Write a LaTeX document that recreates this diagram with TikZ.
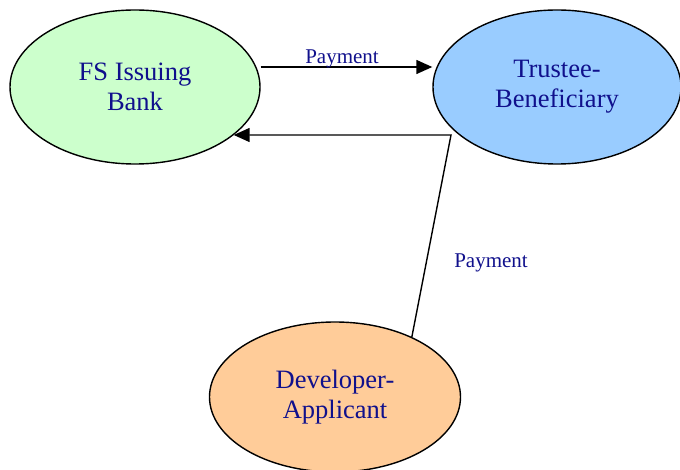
\documentclass[tikz,border=0pt]{standalone}
\usepackage{fontspec}
\setmainfont{Liberation Serif}
\usetikzlibrary{shapes.geometric,arrows.meta}
\definecolor{labelblue}{HTML}{10108C}
\definecolor{bankgreen}{HTML}{CCFFCC}
\definecolor{trustblue}{HTML}{99CCFF}
\definecolor{devorange}{HTML}{FFCC99}
\tikzset{
  party/.style={ellipse, draw=black, line width=1.4pt, text=labelblue,
    font=\fontsize{26.5}{30}\selectfont, align=center, inner sep=0pt},
  flow/.style={draw=black, line width=1.4pt, -{Triangle[length=16pt,width=14pt]}},
  paylabel/.style={text=labelblue, font=\fontsize{21}{24}\selectfont, inner sep=0pt}
}
\begin{document}
\begin{tikzpicture}[x=1pt,y=-1pt]
  \useasboundingbox (0,0) rectangle (680,470);
  \node[party, fill=bankgreen, minimum width=250pt, minimum height=154pt] (bank) at (135,87) {FS Issuing\\Bank};
  \node[party, fill=trustblue, minimum width=248pt, minimum height=154pt] (trustee) at (557,87) {Trustee-\\Beneficiary};
  \node[party, fill=devorange, minimum width=251pt, minimum height=150pt] (dev) at (335,397) {Developer-\\Applicant};
  \coordinate (bend) at (451,135);
  \draw[flow] (bank.east |- 0,67) -- (trustee.west |- 0,67);
  \draw[flow] (dev.38.7) -- (bend) -- (bend -| bank.-26);
  \node[paylabel] (p1) at (342,59) {Payment};
  \node[paylabel] (p2) at (491,263) {Payment};
\end{tikzpicture}
\end{document}
